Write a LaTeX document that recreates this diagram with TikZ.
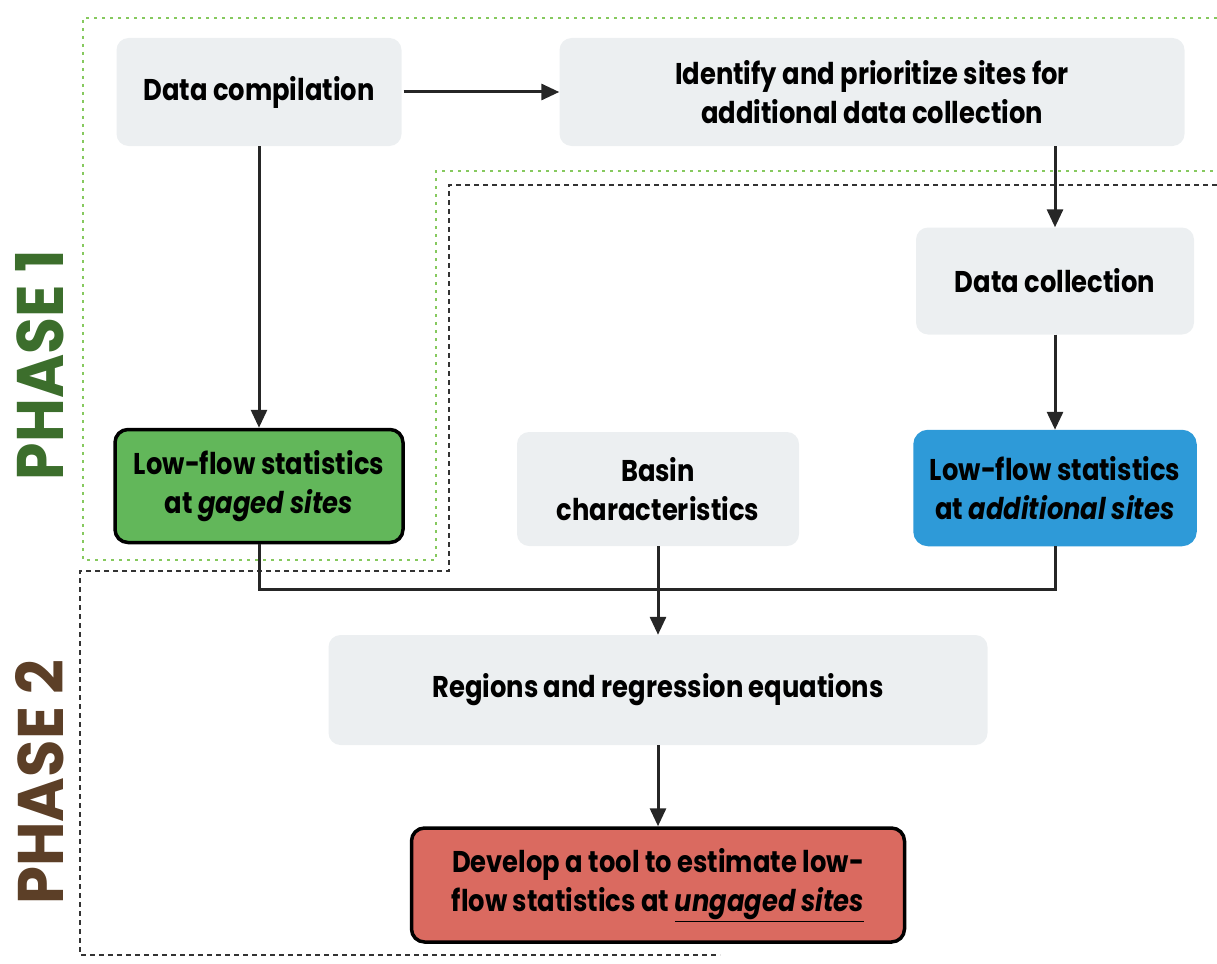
\documentclass[tikz,border=0pt]{standalone}
\usepackage{fontspec}
\setmainfont{Poppins}[FakeStretch=0.86]
\usetikzlibrary{arrows.meta,calc}
\definecolor{boxgray}{HTML}{ECEFF1}
\definecolor{gagedgreen}{HTML}{62B75A}
\definecolor{addblue}{HTML}{2E9AD8}
\definecolor{toolred}{HTML}{DA6A60}
\definecolor{phaseonegreen}{HTML}{3C6E2C}
\definecolor{phasetwobrown}{HTML}{5C3F27}
\definecolor{dotgreen}{HTML}{86C95E}
\begin{document}
\begin{tikzpicture}[x=1pt,y=-1pt,
  every node/.style={font=\fontsize{30}{39}\selectfont\bfseries, align=center, inner sep=0pt},
  graybox/.style={fill=boxgray, rounded corners=12pt},
  colbox/.style={draw=black, line width=3.5pt, rounded corners=13pt},
  conn/.style={line width=3pt, draw=black!85},
  arr/.style={conn, -{Triangle[length=18pt,width=16pt]}},
  phaseonebound/.style={draw=dotgreen, line width=1.6pt, dash pattern=on 3pt off 5pt},
  phasetwobound/.style={draw=black!80, line width=1.8pt, dash pattern=on 5pt off 4pt},
  phaselabel/.style={rotate=90, font=\bfseries}
]
\useasboundingbox (0,0) rectangle (1217,963);
% phase boundaries
\draw[phaseonebound] (1217,18) -- (83,18) -- (83,560) -- (436,560) -- (436,171) -- (1217,171);
\draw[phasetwobound] (1217,185) -- (449,185) -- (449,571) -- (80,571) -- (80,955) -- (720,955);
% phase labels
\node[phaselabel, text=phaseonegreen] (p1) at (40,365) {\resizebox{230pt}{48pt}{PHASE 1}};
\node[phaselabel, text=phasetwobrown] (p2) at (40,782) {\resizebox{245pt}{48pt}{PHASE 2}};
% boxes
\node[graybox, minimum width=285pt, minimum height=108pt] (dc) at (259,92) {Data compilation};
\node[graybox, minimum width=625pt, minimum height=108pt] (idp) at (872,92) {Identify and prioritize sites for\\additional data collection};
\node[graybox, minimum width=278pt, minimum height=107pt] (dcol) at (1055,281) {Data collection};
\node[colbox, fill=gagedgreen, minimum width=288pt, minimum height=113pt] (lfg) at (259,486) {Low-flow statistics\\at \textit{gaged sites}};
\node[graybox, minimum width=282pt, minimum height=114pt] (basin) at (658,489) {Basin\\characteristics};
\node[colbox, fill=addblue, draw=addblue, minimum width=280pt, minimum height=113pt] (lfa) at (1055,488) {Low-flow statistics\\at \textit{additional sites}};
\node[graybox, minimum width=659pt, minimum height=110pt] (reg) at (658,690) {Regions and regression equations};
\node[colbox, fill=toolred, minimum width=493pt, minimum height=114pt] (dev) at (658,885) {Develop a tool to estimate low-\\flow statistics at \underline{\textit{ungaged sites}}};
% connectors
\draw[arr] ([xshift=2pt]dc.east) -- (idp.west);
\draw[arr] (dc.south) -- (lfg.north);
\draw[arr] (idp.south -| dcol.north) -- (dcol.north);
\draw[arr] (dcol.south) -- (lfa.north);
\draw[conn] (lfg.south) -- ++(0,45) -| (lfa.south);
\draw[arr] (basin.south) -- (reg.north);
\draw[arr] (reg.south) -- (dev.north);
\end{tikzpicture}
\end{document}
